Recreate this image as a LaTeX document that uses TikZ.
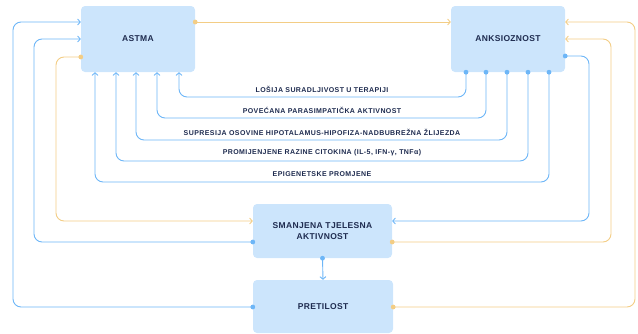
\documentclass[tikz,border=0pt]{standalone}
\usepackage{fontspec}
\setmainfont{Liberation Sans}
\newfontfamily\lblfont[LetterSpace=6]{Liberation Sans}
\newfontfamily\boxfont[LetterSpace=4]{Liberation Sans}
\usetikzlibrary{arrows.meta}
\definecolor{boxfill}{HTML}{CCE5FC}
\definecolor{navy}{HTML}{1E2B4F}
\definecolor{lblue}{HTML}{6DB6F7}
\definecolor{lorange}{HTML}{F3CD85}
\tikzset{
  box/.style={fill=boxfill, rounded corners=4pt, inner sep=0pt, align=center,
    text=navy, font=\boxfont\fontsize{8.5}{11}\selectfont\bfseries},
  lbl/.style={text=navy, inner sep=0pt, font=\lblfont\fontsize{7}{8}\selectfont\bfseries},
  bl/.style={draw=lblue, line width=0.9pt, rounded corners=8pt},
  orl/.style={draw=lorange, line width=0.9pt, rounded corners=8pt},
  tip/.style={-{Straight Barb[length=2.6pt,width=6pt,line width=0.9pt]}},
  bdot/.style={fill=lblue},
  odot/.style={fill=lorange},
}
\begin{document}
\begin{tikzpicture}[x=1pt,y=-1pt]
\useasboundingbox (0,0) rectangle (638,333);
% boxes
\node[box, minimum width=114pt, minimum height=66pt] (astma) at (138,39) {ASTMA};
\node[box, minimum width=114pt, minimum height=66pt] (anks) at (508,39) {ANKSIOZNOST};
\node[box, minimum width=139pt, minimum height=54pt] (sman) at (322.5,231) {SMANJENA TJELESNA\\AKTIVNOST};
\node[box, minimum width=140pt, minimum height=53pt] (pret) at (323,306.5) {PRETILOST};
% coordinates
\coordinate (a1) at (astma.east |- 0,22);
\coordinate (k1) at (anks.west |- 0,22);
\coordinate (aw1) at (astma.west |- 0,22);
\coordinate (aw2) at (astma.west |- 0,39);
\coordinate (aw3) at (astma.west |- 0,57);
\coordinate (pw) at (pret.west |- 0,307);
\coordinate (pe) at (pret.east |- 0,307);
\coordinate (sw1) at (sman.west |- 0,221);
\coordinate (sw2) at (sman.west |- 0,242);
\coordinate (se1) at (sman.east |- 0,221);
\coordinate (se2) at (sman.east |- 0,242);
\coordinate (ke1) at (anks.east |- 0,22);
\coordinate (ke2) at (anks.east |- 0,39);
\coordinate (ke3) at (anks.east |- 0,56);
% top orange
\draw[orl, tip] (a1) -- (k1);
% left side
\draw[bl, tip] (pw) -- (13,307) -- (13,22) -- (aw1);
\draw[bl, tip] (sw2) -- (34,242) -- (34,39) -- (aw2);
\draw[orl, tip] (aw3) -- (56,57) -- (56,221) -- (sw1);
% right side
\draw[orl, tip] (pe) -- (635,307) -- (635,22) -- (ke1);
\draw[orl, tip] (se2) -- (611,242) -- (611,39) -- (ke2);
\draw[bl, tip] (ke3) -- (589,56) -- (589,221) -- (se1);
% middle
\draw[bl, tip] (sman.south) -- (pret.north);
% bottom connectors
\foreach \kx/\ax/\yy in {466/179/97, 486/157/118, 507/136/140, 528/116/161, 549/95/182}{
  \draw[bl, tip] (anks.south -| \kx,0) -- (\kx,\yy) -- (\ax,\yy) -- (astma.south -| \ax,0);
  \fill[bdot] (anks.south -| \kx,0) circle (2.4pt);
}
% dots
\fill[odot] (a1) circle (2.4pt);
\fill[bdot] (pw) circle (2.4pt);
\fill[bdot] (sw2) circle (2.4pt);
\fill[odot] (aw3) circle (2.4pt);
\fill[odot] (pe) circle (2.4pt);
\fill[odot] (se2) circle (2.4pt);
\fill[bdot] (ke3) circle (2.4pt);
\fill[bdot] (sman.south) circle (2.4pt);
% labels
\node[lbl] (l1) at (322,89) {LOŠIJA SURADLJIVOST U TERAPIJI};
\node[lbl] (l2) at (322,110.7) {POVEĆANA PARASIMPATIČKA AKTIVNOST};
\node[lbl] (l3) at (322,132) {SUPRESIJA OSOVINE HIPOTALAMUS-HIPOFIZA-NADBUBREŽNA ŽLIJEZDA};
\node[lbl] (l4) at (322,153) {PROMIJENJENE RAZINE CITOKINA (IL-5, IFN-γ, TNFα)};
\node[lbl] (l5) at (322,174) {EPIGENETSKE PROMJENE};
\end{tikzpicture}
\end{document}
